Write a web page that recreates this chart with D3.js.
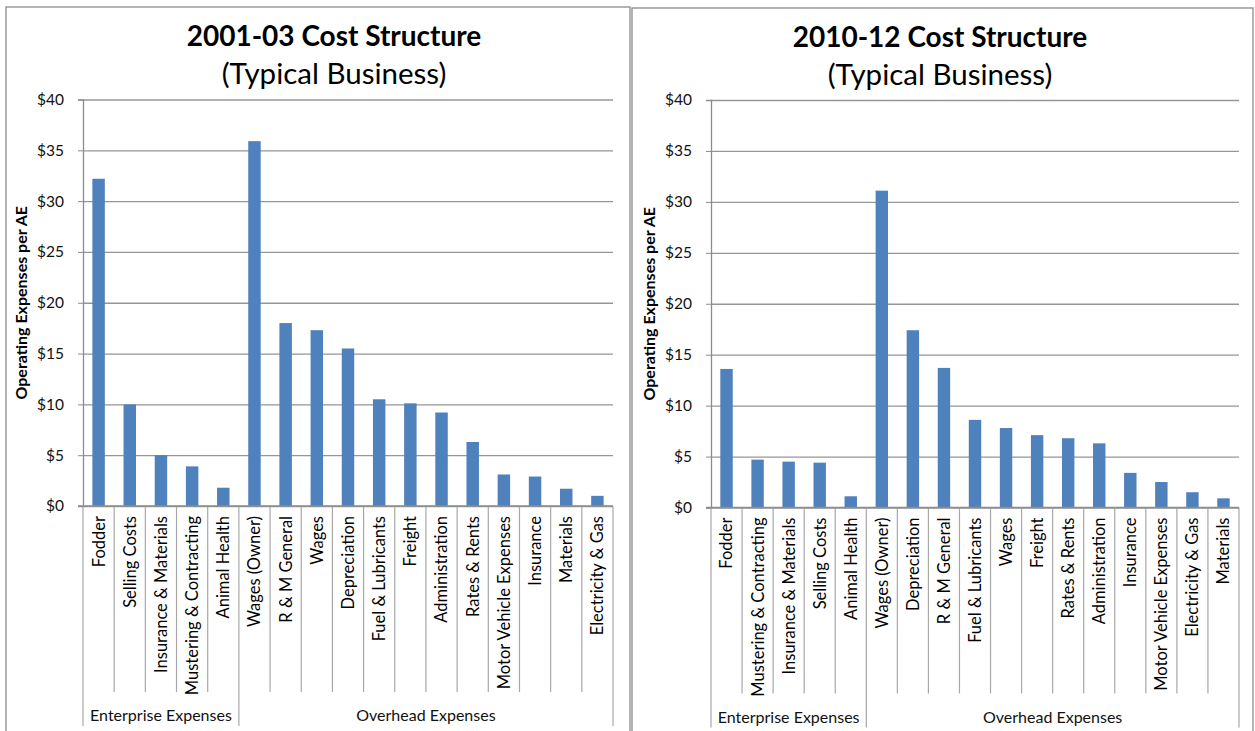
<!DOCTYPE html>
<html>
<head>
<meta charset="utf-8">
<script src="https://cdn.jsdelivr.net/npm/d3@7"></script>
<style>
  html, body { margin: 0; padding: 0; background: #fff; }
  svg { display: block; font-family: Lato, "Open Sans", "Liberation Sans", sans-serif; }
</style>
</head>
<body>
<svg id="chart" width="1255" height="731"></svg>
<script>
// ---- data ----
const yTicks = [0, 5, 10, 15, 20, 25, 30, 35, 40];
const groupNames = ["Enterprise Expenses", "Overhead Expenses"];

const categories0103 = [
  "Fodder", "Selling Costs", "Insurance & Materials", "Mustering & Contracting", "Animal Health",
  "Wages (Owner)", "R & M General", "Wages", "Depreciation", "Fuel & Lubricants", "Freight",
  "Administration", "Rates & Rents", "Motor Vehicle Expenses", "Insurance", "Materials", "Electricity & Gas"
];
const values0103 = [32.2, 10.0, 5.0, 3.9, 1.8, 35.9, 18.0, 17.3, 15.5, 10.5, 10.1, 9.2, 6.3, 3.1, 2.9, 1.7, 1.0];
const groupSizes0103 = [5, 12];

const categories1012 = [
  "Fodder", "Mustering & Contracting", "Insurance & Materials", "Selling Costs", "Animal Health",
  "Wages (Owner)", "Depreciation", "R & M General", "Fuel & Lubricants", "Wages", "Freight",
  "Rates & Rents", "Administration", "Insurance", "Motor Vehicle Expenses", "Electricity & Gas", "Materials"
];
const values1012 = [13.6, 4.7, 4.5, 4.4, 1.1, 31.1, 17.4, 13.7, 8.6, 7.8, 7.1, 6.8, 6.3, 3.4, 2.5, 1.5, 0.9];
const groupSizes1012 = [5, 12];

// ---- drawing ----
const svg = d3.select("#chart");

function drawPanel(cfg) {
  const g = svg.append("g");

  // chart frame
  g.append("rect")
    .attr("x", cfg.frame[0]).attr("y", cfg.frame[1])
    .attr("width", cfg.frame[2] - cfg.frame[0]).attr("height", cfg.frame[3] - cfg.frame[1])
    .attr("fill", "#fff").attr("stroke", "#8c8c8c").attr("stroke-width", 1.3);

  // titles
  g.append("text")
    .attr("x", cfg.titleX).attr("y", cfg.titleY)
    .attr("text-anchor", "middle").attr("font-weight", "bold").attr("font-size", 28)
    .attr("fill", "#000").text(cfg.title);
  g.append("text")
    .attr("x", cfg.titleX).attr("y", cfg.titleY + 38)
    .attr("text-anchor", "middle").attr("font-size", 29.5)
    .attr("fill", "#000").text("(Typical Business)");

  const [left, right, top, bottom] = cfg.plot;
  const y = d3.scaleLinear().domain([0, 40]).range([bottom, top]);
  const x = d3.scaleBand().domain(cfg.categories).range([left, right])
    .paddingInner(0.6).paddingOuter(0.3);
  const step = x.step();

  // horizontal gridlines
  g.append("g")
    .attr("transform", `translate(${left},0)`)
    .call(d3.axisLeft(y).tickValues(yTicks).tickSize(-(right - left)).tickFormat(""))
    .call(s => s.select(".domain").remove())
    .call(s => s.selectAll(".tick line").attr("stroke", "#969696").attr("stroke-width", 1.3));

  // value axis
  g.append("g")
    .attr("transform", `translate(${left},0)`)
    .call(d3.axisLeft(y).tickValues(yTicks).tickSize(5).tickPadding(14).tickFormat(d => "$" + d))
    .call(s => s.select(".domain").attr("stroke", "#8c8c8c").attr("stroke-width", 1.3))
    .call(s => s.selectAll(".tick line").attr("stroke", "#8c8c8c"))
    .call(s => s.selectAll(".tick text")
      .attr("font-size", 15.5).attr("fill", "#111")
      .attr("font-family", "Lato, 'Open Sans', sans-serif"));

  // value axis title
  g.append("text")
    .attr("transform", `translate(${cfg.axisTitleX},${(top + bottom) / 2}) rotate(-90)`)
    .attr("text-anchor", "middle").attr("font-weight", "bold").attr("font-size", 16)
    .attr("fill", "#000").text("Operating Expenses per AE");

  // bars
  const rows = cfg.categories.map((c, i) => ({ c, v: cfg.values[i] }));
  g.append("g").selectAll("rect").data(rows).join("rect")
    .attr("x", d => x(d.c)).attr("width", x.bandwidth())
    .attr("y", d => y(d.v)).attr("height", d => y(0) - y(d.v))
    .attr("fill", "#4f81bd");

  // category boundaries below the axis
  const r0 = x.range()[0];
  const groupEdges = [0];
  cfg.groupSizes.reduce((acc, n) => { groupEdges.push(acc + n); return acc + n; }, 0);
  const boundaries = d3.range(cfg.categories.length + 1);
  g.append("g").selectAll("line").data(boundaries).join("line")
    .attr("x1", i => r0 + i * step).attr("x2", i => r0 + i * step)
    .attr("y1", bottom)
    .attr("y2", i => groupEdges.includes(i) ? bottom + 220 : bottom + 186)
    .attr("stroke", "#a8a8a8").attr("stroke-width", 1.2);

  // horizontal category axis line
  g.append("line")
    .attr("x1", left - 5).attr("x2", right).attr("y1", bottom).attr("y2", bottom)
    .attr("stroke", "#8c8c8c").attr("stroke-width", 1.3);

  // category labels
  g.append("g")
    .attr("transform", `translate(0,${bottom})`)
    .call(d3.axisBottom(x).tickSize(0).tickPadding(0))
    .call(s => s.select(".domain").remove())
    .call(s => s.selectAll(".tick text")
      .attr("transform", "rotate(-90)")
      .attr("text-anchor", "end")
      .attr("x", -10).attr("y", 0).attr("dy", "0.36em")
      .attr("font-size", 16.5).attr("fill", "#000")
      .attr("font-family", "Lato, 'Open Sans', sans-serif"));

  // group labels
  g.append("g").selectAll("text").data(groupNames).join("text")
    .attr("x", (d, i) => r0 + (groupEdges[i] + groupEdges[i + 1]) / 2 * step)
    .attr("y", bottom + 215)
    .attr("text-anchor", "middle").attr("font-size", 16).attr("fill", "#111")
    .text(d => d);
}

drawPanel({
  frame: [6, 7, 630, 740],
  title: "2001-03 Cost Structure",
  titleX: 334, titleY: 46,
  plot: [83, 613, 99.5, 506],
  axisTitleX: 27,
  categories: categories0103, values: values0103, groupSizes: groupSizes0103
});

drawPanel({
  frame: [632, 8, 1253, 740],
  title: "2010-12 Cost Structure",
  titleX: 940, titleY: 47,
  plot: [711, 1239, 100, 507.5],
  axisTitleX: 655,
  categories: categories1012, values: values1012, groupSizes: groupSizes1012
});
</script>
</body>
</html>
